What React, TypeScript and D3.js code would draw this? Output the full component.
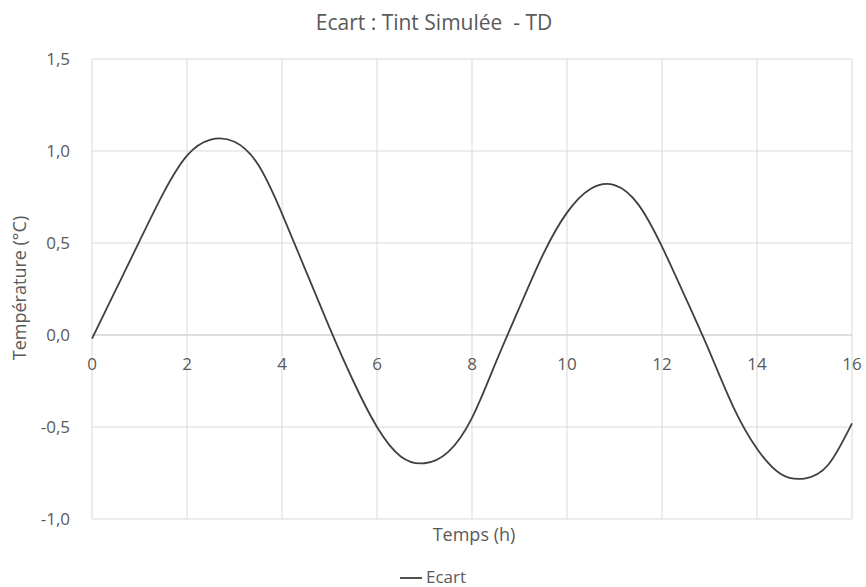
import React from "react";
import * as d3 from "d3";

const title = "Ecart : Tint Simulée  - TD";
const xTitle = "Temps (h)";
const yTitle = "Température (°C)";
const seriesName = "Ecart";

const xTicks = [0, 2, 4, 6, 8, 10, 12, 14, 16];
const yTicks = [-1.0, -0.5, 0.0, 0.5, 1.0, 1.5];

const timeH = [0, 0.5, 1, 1.5, 2, 2.5, 3, 3.5, 4, 4.5, 5, 5.5, 6, 6.5, 7, 7.5, 8, 8.5, 9, 9.5, 10, 10.5, 11, 11.5, 12, 12.5, 13, 13.5, 14, 14.5, 15, 15.5, 16];
const ecart = [-0.02, 0.245, 0.51, 0.77, 0.975, 1.062, 1.05, 0.925, 0.66, 0.35, 0.04, -0.25, -0.5, -0.66, -0.697, -0.635, -0.45, -0.15, 0.15, 0.44, 0.665, 0.795, 0.815, 0.71, 0.48, 0.2, -0.09, -0.39, -0.618, -0.755, -0.78, -0.705, -0.48];

const W = 866;
const H = 587;
const M = { left: 92, right: 14, top: 59, bottom: 68 };

export default function App() {
  const x = d3.scaleLinear().domain([0, 16]).range([M.left, W - M.right]);
  const y = d3.scaleLinear().domain([-1, 1.5]).range([H - M.bottom, M.top]);
  const pts: [number, number][] = timeH.map((t, i) => [t, ecart[i]]);
  const line = d3
    .line<[number, number]>()
    .x((d) => x(d[0]))
    .y((d) => y(d[1]))
    .curve(d3.curveNatural);
  const fmt = (v: number) => v.toFixed(1).replace(".", ",");
  const font = "'Open Sans', 'Noto Sans', sans-serif";
  const txt = "#595959";
  const grid = "#d9d9d9";
  return (
    <div style={{ position: "absolute", left: 0, top: 0 }}>
      <svg width={W} height={H} style={{ display: "block", background: "#fff" }} fontFamily={font}>
        <rect x={0} y={0} width={W} height={H} fill="#fff" />
        {yTicks.map((v) => (
          <line key={"gy" + v} x1={x(0)} x2={x(16)} y1={y(v)} y2={y(v)} stroke={grid} strokeWidth={1} />
        ))}
        {xTicks.map((v) => (
          <line key={"gx" + v} x1={x(v)} x2={x(v)} y1={y(1.5)} y2={y(-1)} stroke={grid} strokeWidth={1} />
        ))}
        <line x1={x(0)} x2={x(16)} y1={y(0)} y2={y(0)} stroke="#d0d0d0" strokeWidth={1} />
        {yTicks.map((v) => (
          <text key={"ty" + v} x={70} y={y(v)} dy="0.36em" textAnchor="end" fontSize={17} fill={txt}>
            {fmt(v)}
          </text>
        ))}
        {xTicks.map((v) => (
          <text key={"tx" + v} x={x(v)} y={370} textAnchor="middle" fontSize={17} fill={txt}>
            {v}
          </text>
        ))}
        <path d={line(pts) || ""} fill="none" stroke="#404040" strokeWidth={1.8} />
        <text x={434} y={30} textAnchor="middle" fontSize={21} fill={txt} style={{ whiteSpace: "pre" }}>
          {title}
        </text>
        <text x={474} y={541} textAnchor="middle" fontSize={18} fill={txt}>
          {xTitle}
        </text>
        <text transform={`translate(26,288) rotate(-90)`} textAnchor="middle" fontSize={18} fill={txt}>
          {yTitle}
        </text>
        <line x1={400} x2={422} y1={578} y2={578} stroke="#404040" strokeWidth={1.8} />
        <text x={426} y={583} fontSize={17} fill={txt}>
          {seriesName}
        </text>
      </svg>
    </div>
  );
}
